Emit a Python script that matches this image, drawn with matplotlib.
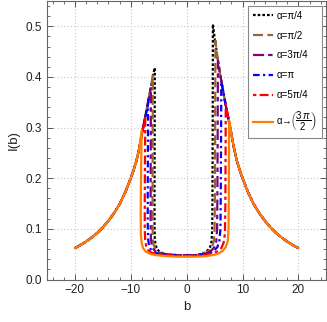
import matplotlib
matplotlib.use("Agg")
import matplotlib.pyplot as plt
from matplotlib.ticker import MultipleLocator

plt.rcParams['font.family'] = ['Liberation Sans', 'DejaVu Sans']
plt.rcParams['mathtext.fontset'] = 'custom'
plt.rcParams['mathtext.rm'] = 'Liberation Sans'
plt.rcParams['mathtext.it'] = 'Liberation Sans:italic'
plt.rcParams['mathtext.sf'] = 'Liberation Sans'

labels = ["α=π/4", "α=π/2", "α=3π/4", "α=π", "α=5π/4",
          r"α→$\!\left(\dfrac{3\,\pi}{2}\right)$"]
colors = ["#000000", "#996633", "#800080", "#0000ff", "#ff0000", "#ff8000"]

# common outer envelope, |b| and I(b)
env_abs_b = [20, 19, 18, 17, 16, 15, 14, 13, 12, 11, 10, 9.5, 9, 8.5, 8, 7.5, 7, 6.5, 6, 5.5, 5]
env_I = [0.062, 0.068, 0.075, 0.083, 0.092, 0.103, 0.116, 0.131, 0.149, 0.172, 0.200,
         0.216, 0.234, 0.258, 0.288, 0.316, 0.344, 0.374, 0.405, 0.440, 0.478]

# inner part of each curve, from the left peak to the right peak
in_b_black = [-5.7, -5.72, -5.75, -5.75, -5.70, -5.55, -5.3, -4.8, -4, -3, -1.5, 0, 1.5, 2.5, 3.2, 3.8, 4.2, 4.45, 4.58, 4.62, 4.66, 4.7]
in_I_black = [0.418, 0.30, 0.18, 0.11, 0.08, 0.068, 0.060, 0.054, 0.051, 0.049, 0.048, 0.048, 0.048, 0.050, 0.053, 0.058, 0.064, 0.075, 0.10, 0.16, 0.28, 0.504]

in_b_brown = [-6.05, -6.07, -6.1, -6.1, -6.05, -5.9, -5.6, -5.1, -4.3, -3, -1.5, 0, 1.5, 2.7, 3.5, 4.1, 4.55, 4.85, 5.0, 5.05, 5.1, 5.15]
in_I_brown = [0.403, 0.30, 0.18, 0.11, 0.08, 0.068, 0.060, 0.054, 0.051, 0.049, 0.048, 0.048, 0.048, 0.050, 0.053, 0.058, 0.064, 0.075, 0.10, 0.16, 0.28, 0.472]

in_b_purple = [-6.4, -6.42, -6.45, -6.45, -6.4, -6.25, -5.95, -5.4, -4.6, -3, -1.5, 0, 1.5, 3, 3.9, 4.5, 4.95, 5.3, 5.45, 5.5, 5.55, 5.6]
in_I_purple = [0.378, 0.30, 0.18, 0.11, 0.08, 0.068, 0.060, 0.054, 0.051, 0.049, 0.048, 0.048, 0.048, 0.050, 0.053, 0.058, 0.064, 0.075, 0.10, 0.16, 0.28, 0.432]

in_b_blue = [-6.9, -6.93, -6.97, -6.97, -6.9, -6.75, -6.45, -5.9, -5, -3.5, -1.5, 0, 1.5, 3.3, 4.4, 5.0, 5.5, 5.85, 6.05, 6.1, 6.15, 6.2]
in_I_blue = [0.355, 0.28, 0.17, 0.11, 0.08, 0.068, 0.060, 0.054, 0.051, 0.049, 0.048, 0.048, 0.048, 0.050, 0.053, 0.058, 0.064, 0.075, 0.10, 0.16, 0.26, 0.39]

in_b_red = [-7.4, -7.45, -7.5, -7.5, -7.42, -7.25, -6.9, -6.3, -5.3, -3.5, -1.5, 0, 1.5, 3.5, 4.8, 5.6, 6.2, 6.6, 6.85, 6.93, 6.97, 7.0]
in_I_red = [0.323, 0.25, 0.16, 0.10, 0.078, 0.066, 0.058, 0.053, 0.050, 0.048, 0.047, 0.047, 0.047, 0.049, 0.052, 0.056, 0.062, 0.072, 0.09, 0.15, 0.25, 0.347]

in_b_orange = [-8.05, -8.15, -8.22, -8.2, -8.05, -7.8, -7.3, -6.6, -5.5, -3.5, -1.5, 0, 1.5, 3.5, 5, 5.8, 6.5, 7.0, 7.35, 7.5, 7.55, 7.58, 7.6]
in_I_orange = [0.295, 0.22, 0.14, 0.09, 0.072, 0.062, 0.055, 0.051, 0.048, 0.046, 0.045, 0.045, 0.045, 0.046, 0.049, 0.052, 0.057, 0.064, 0.075, 0.10, 0.17, 0.25, 0.315]

inner_b = [in_b_black, in_b_brown, in_b_purple, in_b_blue, in_b_red, in_b_orange]
inner_I = [in_I_black, in_I_brown, in_I_purple, in_I_blue, in_I_red, in_I_orange]
styles = [(0, (1.2, 0.9)), (0, (4.5, 2.0)), (0, (5, 1.8, 2, 1.8)),
          (0, (3, 1.5, 1, 1.5)), (0, (1.5, 1.5, 4, 1.5)), '-']

fig = plt.figure(figsize=(3.27, 3.22), dpi=100)
ax = fig.add_axes([47 / 327, (322 - 279.5) / 322, (326.3 - 47) / 327, (279.5 - 1) / 322])

for ib, iI, c, ls, lab in zip(inner_b, inner_I, colors, styles, labels):
    left_b = [-a for a, v in zip(env_abs_b, env_I) if -a < ib[0]]
    left_I = [v for a, v in zip(env_abs_b, env_I) if -a < ib[0]]
    right_b = [a for a, v in zip(env_abs_b[::-1], env_I[::-1]) if a > ib[-1]]
    right_I = [v for a, v in zip(env_abs_b[::-1], env_I[::-1]) if a > ib[-1]]
    ax.plot(left_b + ib + right_b, left_I + iI + right_I, color=c, linestyle=ls,
            lw=1.6, label=lab)

ax.set_xlim(-25, 25)
ax.set_ylim(0, 0.55)
ax.xaxis.set_minor_locator(MultipleLocator(2))
ax.yaxis.set_minor_locator(MultipleLocator(0.02))
ax.set_yticks([0.0, 0.1, 0.2, 0.3, 0.4, 0.5])
ax.set_yticklabels(["0.0", "0.1", "0.2", "0.3", "0.4", "0.5"])
ax.set_xticks([-20, -10, 0, 10, 20])
ax.set_xticklabels(["\u221220", "\u221210", "0", "10", "20"])
ax.grid(True, which='major', color='#c8c8c8', linestyle=(0, (1, 2)), lw=0.8)
ax.tick_params(which='both', direction='in', top=True, right=True, colors='#555555',
               labelcolor='#222222', labelsize=8.5)
ax.tick_params(which='major', length=4, width=0.7)
ax.tick_params(which='minor', length=2.2, width=0.6)
for s in ax.spines.values():
    s.set_color('#666666')
    s.set_linewidth(0.8)

ax.set_xlabel("b", fontsize=9.5, color='#222222', labelpad=3)
ax.set_ylabel("I(b)", fontsize=9.5, color='#222222', labelpad=4)

leg = ax.legend(loc='upper right', bbox_to_anchor=(0.99, 0.99), fontsize=7.0,
                handlelength=2.1, handletextpad=0.3, labelspacing=1.02,
                borderpad=0.5, borderaxespad=0.2, fancybox=False, framealpha=1,
                edgecolor='#888888')
leg.get_frame().set_linewidth(0.8)

fig.savefig("out.png", dpi=100)
